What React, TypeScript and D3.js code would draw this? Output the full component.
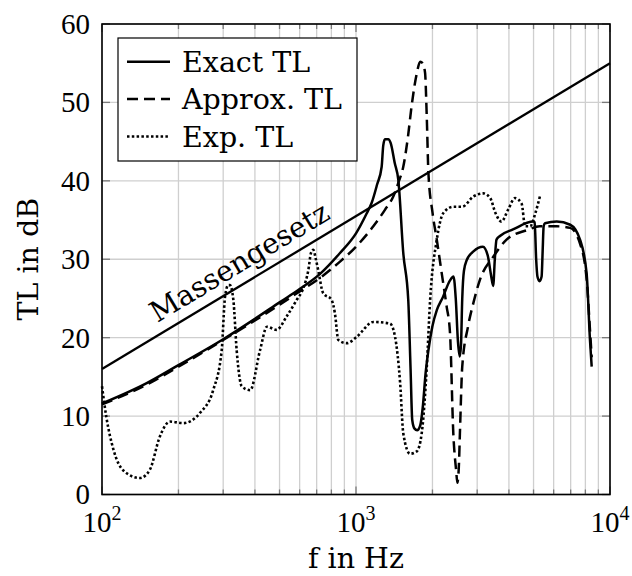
import React, { useEffect, useRef } from 'react';
import * as d3 from 'd3';

// Exact TL (solid)
const exactF = [100, 150, 200, 300, 400, 500, 600, 720, 865, 1000, 1100, 1153, 1210, 1262, 1280, 1300, 1340, 1370, 1420, 1468, 1535, 1606, 1640, 1665, 1700, 1740, 1790, 1830, 1880, 1928, 2000, 2080, 2200, 2345, 2420, 2470, 2520, 2560, 2590, 2620, 2660, 2730, 2900, 3160, 3300, 3400, 3468, 3520, 3574, 3700, 4150, 4990, 5050, 5120, 5180, 5280, 5380, 5430, 5480, 5546, 6170, 6970, 7620, 8090, 8340, 8470];
const exactTL = [11.6, 14.2, 16.5, 19.8, 22.4, 24.5, 26.2, 28.1, 30.8, 33.3, 35.8, 37.2, 39.5, 41.8, 44.5, 45.3, 45.3, 44.8, 42.3, 40.1, 30.8, 24.8, 16, 9.5, 8.4, 8.2, 8.8, 11, 15.5, 18.4, 21.5, 23.5, 25.2, 27.3, 27.8, 25, 19.5, 17.6, 19, 25, 28.5, 29.9, 31.0, 31.6, 30.5, 28, 26.6, 30, 32.5, 33.0, 33.8, 34.8, 34.7, 30, 27.8, 27.2, 27.8, 31, 34.2, 34.6, 34.8, 34.4, 32.5, 28.2, 19.7, 16.3];

// Approx. TL (dashed)
const approxF = [100, 150, 200, 300, 400, 500, 600, 720, 865, 1000, 1170, 1300, 1402, 1470, 1535, 1600, 1655, 1730, 1790, 1830, 1870, 1900, 1928, 2000, 2080, 2180, 2274, 2345, 2416, 2480, 2506, 2540, 2565, 2620, 2760, 2897, 3077, 3468, 3915, 4700, 5296, 6170, 6970, 7620, 8090, 8340, 8470];
const approxTL = [11.5, 14.0, 16.3, 19.7, 22.2, 24.2, 25.9, 27.6, 29.7, 31.6, 34.2, 36.3, 38.0, 39.8, 41.8, 45.5, 49.5, 53.5, 55.2, 55.0, 53.8, 48, 41, 36, 32.5, 28, 24, 20.6, 7.8, 3, 1.5, 3.5, 7.8, 16.3, 21.4, 24.4, 27.4, 30.3, 32.5, 33.7, 34.2, 34.2, 34.0, 32.0, 27.5, 21, 17.5];

// Exp. TL (dotted)
const expF = [100, 104, 111, 121, 141, 154, 169, 185, 209, 243, 274, 296, 305, 314, 319, 329, 339, 355, 383, 419, 446, 487, 533, 584, 620, 649, 665, 679, 695, 710, 742, 802, 826, 852, 921, 1006, 1170, 1361, 1425, 1492, 1535, 1632, 1735, 1814, 1900, 1958, 2080, 2208, 2416, 2620, 2897, 3175, 3377, 3540, 3737, 3967, 4225, 4488, 4632, 4850, 5084, 5296];
const expTL = [13.8, 9.9, 5.7, 3.1, 2.1, 3.1, 7.4, 9.3, 9.1, 10.4, 13.3, 18.4, 25.2, 26.7, 26.7, 24.8, 18.4, 13.8, 13.3, 18.4, 21.4, 21.0, 22.7, 24.8, 26.3, 28.6, 30.8, 31.2, 30, 28.6, 25.7, 24.8, 23.1, 19.7, 19.3, 20.1, 22.0, 21.8, 20.1, 14.2, 7.8, 5.2, 5.5, 7.8, 16.3, 24.8, 32.5, 35.9, 36.7, 36.7, 38.0, 38.4, 37.8, 35.9, 34.8, 36.3, 37.8, 37.1, 34.2, 34.2, 35.9, 38.0];

// Massengesetz
const massF = [100, 10000];
const massTL = [16, 55];

const tlTicks = [0, 10, 20, 30, 40, 50, 60];
const decades = [100, 1000, 10000];
const decadeExp = ['2', '3', '4'];
const legendNames = ['Exact TL', 'Approx. TL', 'Exp. TL'];
const dashes = ['none', '11 6', '2.5 2.3'];

const W = 632;
const H = 576;
const font = '"DejaVu Serif", serif';
const fs = '28.5px';
// digits are narrower in Liberation Serif, closer to the original
const numFont = '"Liberation Serif", serif';
const numFs = '29px';

export default function App() {
  const ref = useRef<SVGSVGElement>(null);

  useEffect(() => {
    const svg = d3.select(ref.current);
    svg.selectAll('*').remove();

    const x = d3.scaleLog().domain([100, 10000]).range([102, 610]);
    const y = d3.scaleLinear().domain([0, 60]).range([494.5, 24]);
    const [x0, x1] = x.range();
    const [y0, y1] = y.range();

    // grid
    const grid = svg.append('g').attr('stroke', '#cfcfcf').attr('stroke-width', 1.3);
    grid.selectAll('line.v').data(x.ticks()).enter().append('line')
      .attr('x1', d => x(d)).attr('x2', d => x(d)).attr('y1', y0).attr('y2', y1);
    grid.selectAll('line.h').data(tlTicks).enter().append('line')
      .attr('x1', x0).attr('x2', x1).attr('y1', d => y(d)).attr('y2', d => y(d));

    // ticks (inside, both sides)
    const ticks = svg.append('g').attr('stroke', '#7a7a7a').attr('stroke-width', 1.3);
    x.ticks().forEach(d => {
      const len = decades.includes(d) ? 8 : 5;
      ticks.append('line').attr('x1', x(d)).attr('x2', x(d)).attr('y1', y0).attr('y2', y0 - len);
      ticks.append('line').attr('x1', x(d)).attr('x2', x(d)).attr('y1', y1).attr('y2', y1 + len);
    });
    tlTicks.forEach(d => {
      ticks.append('line').attr('x1', x0).attr('x2', x0 + 8).attr('y1', y(d)).attr('y2', y(d));
      ticks.append('line').attr('x1', x1).attr('x2', x1 - 8).attr('y1', y(d)).attr('y2', y(d));
    });

    const line = d3.line<[number, number]>()
      .x(d => x(d[0]))
      .y(d => y(d[1]))
      .curve(d3.curveMonotoneX);

    const series: [number[], number[], string][] = [
      [exactF, exactTL, dashes[0]],
      [approxF, approxTL, dashes[1]],
      [expF, expTL, dashes[2]],
    ];
    series.forEach(([fr, vs, dash], i) => {
      svg.append('path')
        .attr('d', line(fr.map((f, k) => [f, vs[k]] as [number, number])))
        .attr('fill', 'none')
        .attr('stroke', '#000')
        .attr('stroke-width', i === 2 ? 2.6 : 2.5)
        .attr('stroke-dasharray', dash);
    });

    // mass law
    svg.append('path')
      .attr('d', line(massF.map((f, k) => [f, massTL[k]] as [number, number])))
      .attr('fill', 'none').attr('stroke', '#000').attr('stroke-width', 2.3);

    const angle = Math.atan2(y(massTL[0]) - y(massTL[1]), x(massF[1]) - x(massF[0])) * 180 / Math.PI;
    const labF = 383;
    const labTL = d3.scaleLog().domain(massF).range(massTL)(labF);
    svg.append('text')
      .attr('transform', `translate(${x(labF)},${y(labTL)}) rotate(${-angle})`)
      .attr('y', -11)
      .attr('text-anchor', 'middle')
      .style('font-family', font).style('font-size', fs)
      .text('Massengesetz');

    // frame
    svg.append('rect')
      .attr('x', x0).attr('y', y1).attr('width', x1 - x0).attr('height', y0 - y1)
      .attr('fill', 'none').attr('stroke', '#000').attr('stroke-width', 1.6);

    // tick labels
    tlTicks.forEach(d => {
      svg.append('text')
        .attr('x', x0 - 12).attr('y', y(d)).attr('dy', '0.34em')
        .attr('text-anchor', 'end')
        .style('font-family', numFont).style('font-size', numFs)
        .text(d);
    });
    decades.forEach((d, i) => {
      const t = svg.append('text')
        .attr('x', x(d)).attr('y', 531.5)
        .attr('text-anchor', 'middle')
        .style('font-family', numFont).style('font-size', numFs);
      t.append('tspan').text('10');
      t.append('tspan').attr('dy', -11.5).style('font-size', '20px').text(decadeExp[i]);
    });

    // axis titles
    svg.append('text')
      .attr('x', (x0 + x1) / 2).attr('y', 568)
      .attr('text-anchor', 'middle')
      .style('font-family', font).style('font-size', fs)
      .text('f in Hz');
    svg.append('text')
      .attr('transform', `translate(38,${(y0 + y1) / 2}) rotate(-90)`)
      .attr('text-anchor', 'middle')
      .style('font-family', font).style('font-size', fs)
      .text('TL in dB');

    // legend
    const lg = svg.append('g');
    lg.append('rect')
      .attr('x', 118).attr('y', 38).attr('width', 239).attr('height', 123)
      .attr('fill', '#fff').attr('stroke', '#000').attr('stroke-width', 1.2);
    legendNames.forEach((name, i) => {
      const cy = 61.7 + i * 37.4;
      lg.append('line')
        .attr('x1', 127).attr('x2', 170).attr('y1', cy).attr('y2', cy)
        .attr('stroke', '#000').attr('stroke-width', i === 2 ? 2.6 : 2.5)
        .attr('stroke-dasharray', dashes[i]);
      lg.append('text')
        .attr('x', 182).attr('y', cy + 10)
        .style('font-family', font).style('font-size', fs)
        .text(name);
    });
  }, []);

  return (
    <svg
      ref={ref}
      width={W}
      height={H}
      style={{ position: 'absolute', left: 0, top: 0, background: '#fff' }}
    />
  );
}
